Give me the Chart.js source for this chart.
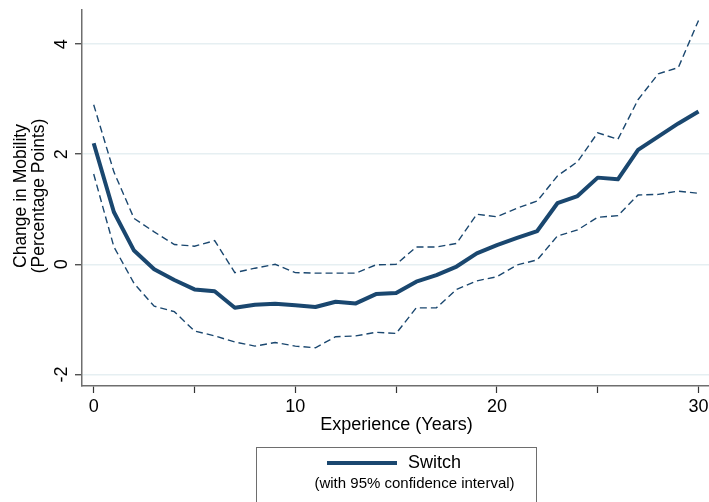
<!DOCTYPE html>
<html>
<head>
<meta charset="utf-8">
<script src="https://cdn.jsdelivr.net/npm/chart.js@4.4.1/dist/chart.umd.min.js"></script>
<style>
  html, body { margin: 0; padding: 0; background: #ffffff; }
  #wrap { width: 709px; height: 502px; position: relative; }
</style>
</head>
<body>
<div id="wrap"><canvas id="c" width="709" height="502"></canvas></div>
<script>
// Years of experience
const experience = [0,1,2,3,4,5,6,7,8,9,10,11,12,13,14,15,16,17,18,19,20,21,22,23,24,25,26,27,28,29,30];

// Estimated change in mobility (percentage points)
const switchEstimate = [2.20,0.95,0.25,-0.09,-0.285,-0.455,-0.49,-0.79,-0.735,-0.715,-0.745,-0.775,-0.68,-0.71,-0.54,-0.52,-0.315,-0.195,-0.04,0.20,0.35,0.48,0.605,1.11,1.24,1.575,1.545,2.08,2.32,2.56,2.775];

// 95% confidence bounds
const upperCI = [2.90,1.68,0.835,0.59,0.36,0.33,0.43,-0.15,-0.07,0.00,-0.15,-0.16,-0.16,-0.16,-0.01,0.00,0.315,0.315,0.38,0.91,0.865,1.02,1.15,1.605,1.865,2.39,2.27,2.99,3.46,3.575,4.43];
const lowerCI = [1.64,0.32,-0.345,-0.76,-0.86,-1.21,-1.30,-1.41,-1.485,-1.42,-1.485,-1.515,-1.315,-1.30,-1.235,-1.255,-0.79,-0.79,-0.455,-0.30,-0.225,-0.01,0.08,0.515,0.625,0.855,0.885,1.26,1.27,1.33,1.29];

// Axis ticks
const xTickValues = [0,5,10,15,20,25,30];
const xTickLabels = ['0','','10','','20','','30'];
const yTickValues = [-2,0,2,4];
const yTickLabels = ['-2','0','2','4'];

// Text
const xTitle = 'Experience (Years)';
const yTitleLines = ['Change in Mobility', '(Percentage Points)'];
const legendLabel = 'Switch';
const legendNote = '(with 95% confidence interval)';

const NAVY = '#1a476f';
const FONT = '"Liberation Sans", Arial, Helvetica, sans-serif';

const toPoints = (ys) => experience.map((x, i) => ({ x: x, y: ys[i] }));

// Rotated y tick labels, axis titles and the boxed legend
const annotations = {
  id: 'annotations',
  afterDraw(chart) {
    const ctx = chart.ctx;
    const yScale = chart.scales.y;
    const area = chart.chartArea;
    ctx.save();
    ctx.fillStyle = '#000000';

    // y tick labels, rotated
    ctx.font = '18px ' + FONT;
    ctx.textAlign = 'center';
    ctx.textBaseline = 'middle';
    yTickValues.forEach((v, i) => {
      const py = yScale.getPixelForValue(v);
      ctx.save();
      ctx.translate(62, py);
      ctx.rotate(-Math.PI / 2);
      ctx.fillText(yTickLabels[i], 0, 0);
      ctx.restore();
    });

    // y title, two rotated lines
    const midY = (area.top + area.bottom) / 2 - 2;
    ctx.font = '17.5px ' + FONT;
    [21, 39].forEach((px, i) => {
      ctx.save();
      ctx.translate(px, midY);
      ctx.rotate(-Math.PI / 2);
      ctx.fillText(yTitleLines[i], 0, 0);
      ctx.restore();
    });

    // x title
    ctx.font = '18px ' + FONT;
    const midX = (area.left + area.right) / 2 + 1;
    ctx.fillText(xTitle, midX, 425);

    // legend box
    ctx.strokeStyle = '#6e6e6e';
    ctx.lineWidth = 1;
    ctx.strokeRect(256.5, 447.5, 280, 70);

    ctx.strokeStyle = NAVY;
    ctx.lineWidth = 4;
    ctx.beginPath();
    ctx.moveTo(327, 463);
    ctx.lineTo(397, 463);
    ctx.stroke();

    ctx.textAlign = 'left';
    ctx.font = '18px ' + FONT;
    ctx.fillText(legendLabel, 408, 463);

    ctx.textAlign = 'center';
    ctx.font = '15px ' + FONT;
    ctx.fillText(legendNote, 414.5, 484);

    ctx.restore();
  }
};

new Chart(document.getElementById('c'), {
  type: 'line',
  data: {
    datasets: [
      {
        label: legendLabel,
        data: toPoints(switchEstimate),
        borderColor: NAVY,
        borderWidth: 4,
        pointRadius: 0,
        tension: 0,
        borderJoinStyle: 'round',
        fill: false
      },
      {
        label: 'upper',
        data: toPoints(upperCI),
        borderColor: NAVY,
        borderWidth: 1.4,
        borderDash: [7, 4],
        pointRadius: 0,
        tension: 0,
        fill: false
      },
      {
        label: 'lower',
        data: toPoints(lowerCI),
        borderColor: NAVY,
        borderWidth: 1.4,
        borderDash: [7, 4],
        pointRadius: 0,
        tension: 0,
        fill: false
      }
    ]
  },
  options: {
    responsive: false,
    animation: false,
    layout: { padding: { top: 10, right: 0, bottom: 0, left: 0 } },
    plugins: {
      legend: { display: false },
      tooltip: { enabled: false },
      title: { display: false }
    },
    scales: {
      x: {
        type: 'linear',
        min: -0.58,
        max: 30.52,
        afterBuildTicks: (scale) => { scale.ticks = xTickValues.map(v => ({ value: v })); },
        afterFit: (scale) => {
          scale.height = 116;
          scale.paddingLeft = 0;
          scale.paddingRight = 0;
        },
        ticks: {
          autoSkip: false,
          maxRotation: 0,
          padding: 3,
          color: '#000000',
          font: { family: FONT, size: 18 },
          callback: (value) => {
            const i = xTickValues.indexOf(value);
            return i >= 0 ? xTickLabels[i] : '';
          }
        },
        grid: {
          drawOnChartArea: false,
          drawTicks: true,
          tickLength: 7,
          tickColor: '#333333',
          tickWidth: 1.2
        },
        border: { display: true, color: '#6e6e6e', width: 1.5 }
      },
      y: {
        type: 'linear',
        min: -2.21,
        max: 4.62,
        afterBuildTicks: (scale) => { scale.ticks = yTickValues.map(v => ({ value: v })); },
        afterFit: (scale) => {
          scale.width = 82;
          scale.paddingTop = 0;
          scale.paddingBottom = 0;
        },
        ticks: { display: false },
        grid: {
          display: true,
          drawOnChartArea: true,
          drawTicks: true,
          tickLength: 7,
          color: '#e6eff2',
          lineWidth: 1.5,
          tickColor: '#333333',
          tickWidth: 1.2
        },
        border: { display: true, color: '#6e6e6e', width: 1.5 }
      }
    }
  },
  plugins: [annotations]
});
</script>
</body>
</html>
